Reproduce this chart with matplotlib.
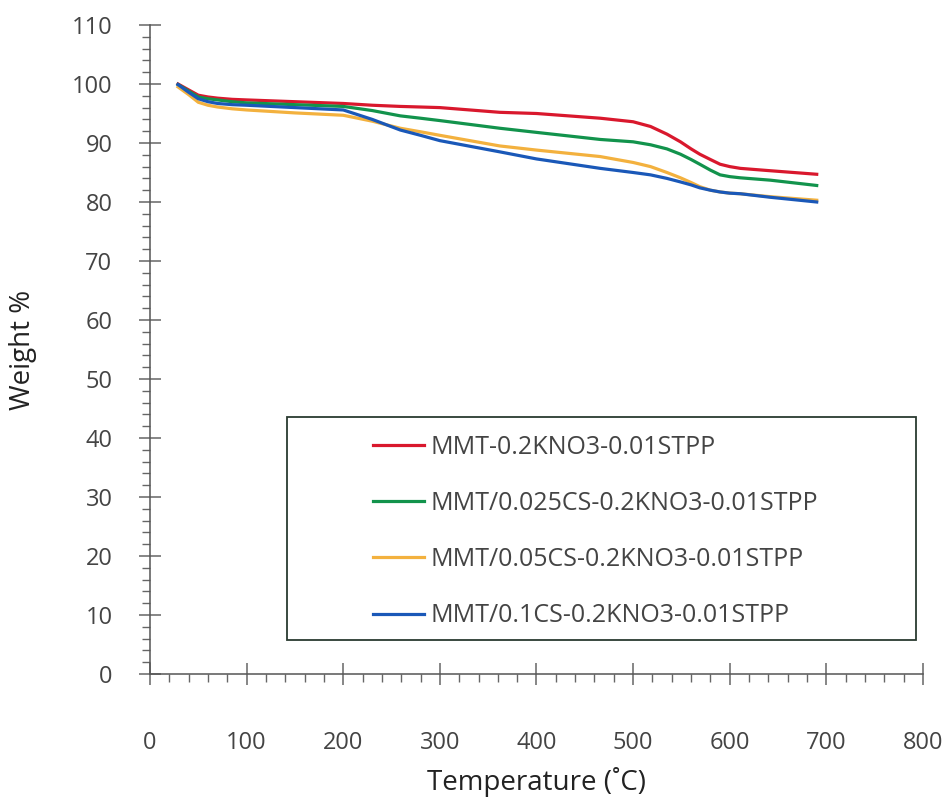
import matplotlib
matplotlib.use("Agg")
import matplotlib.pyplot as plt
from matplotlib.ticker import MultipleLocator
from matplotlib.patches import Rectangle

temperature = [29, 40, 50, 60, 70, 85, 100, 150, 200, 230, 259, 280, 300, 362, 400, 466, 500, 518, 535, 549, 560, 569, 580, 590, 600, 611, 642, 690]
mmt = [100.0, 99.0, 98.1, 97.8, 97.6, 97.4, 97.3, 97.0, 96.7, 96.4, 96.2, 96.1, 96.0, 95.2, 95.0, 94.2, 93.6, 92.8, 91.5, 90.2, 89.0, 88.1, 87.2, 86.4, 86.0, 85.7, 85.3, 84.7]
cs025 = [99.9, 98.8, 97.8, 97.5, 97.3, 97.0, 96.8, 96.5, 96.2, 95.5, 94.6, 94.2, 93.8, 92.5, 91.8, 90.6, 90.2, 89.7, 89.0, 88.1, 87.2, 86.4, 85.4, 84.6, 84.3, 84.1, 83.7, 82.8]
cs05 = [99.5, 98.2, 96.9, 96.4, 96.1, 95.8, 95.6, 95.1, 94.7, 93.7, 92.5, 91.9, 91.3, 89.5, 88.8, 87.7, 86.7, 86.0, 85.0, 84.1, 83.3, 82.6, 82.0, 81.7, 81.5, 81.4, 80.9, 80.3]
cs1 = [99.9, 98.6, 97.5, 97.0, 96.7, 96.5, 96.4, 96.0, 95.6, 94.0, 92.2, 91.3, 90.4, 88.5, 87.3, 85.7, 85.0, 84.6, 84.0, 83.4, 82.9, 82.4, 82.0, 81.7, 81.5, 81.4, 80.8, 80.0]

labels = ["MMT-0.2KNO3-0.01STPP", "MMT/0.025CS-0.2KNO3-0.01STPP",
          "MMT/0.05CS-0.2KNO3-0.01STPP", "MMT/0.1CS-0.2KNO3-0.01STPP"]
colors = ["#d9182d", "#12934c", "#f3b13e", "#1a58b8"]
series = [mmt, cs025, cs05, cs1]

plt.rcParams['font.family'] = ['Open Sans', 'DejaVu Sans']

fig = plt.figure(figsize=(9.45, 7.99), dpi=100)
ax = fig.add_axes([150/945, 1-674/799, 773/945, 649/799])

for ys, c, lab in zip(series, colors, labels):
    ax.plot(temperature, ys, color=c, lw=2.3, label=lab)

ax.set_xlim(0, 800)
ax.set_ylim(0, 110)
ax.xaxis.set_major_locator(MultipleLocator(100))
ax.xaxis.set_minor_locator(MultipleLocator(20))
ax.yaxis.set_major_locator(MultipleLocator(10))
ax.yaxis.set_minor_locator(MultipleLocator(2))

for s in ['top', 'right']:
    ax.spines[s].set_visible(False)
for s in ['left', 'bottom']:
    ax.spines[s].set_color('#555555')
    ax.spines[s].set_linewidth(1.1)

tc = '#666666'
ax.tick_params(axis='both', which='major', direction='inout', length=16, width=1.1,
               color=tc, labelsize=17, labelcolor='#444444')
ax.tick_params(axis='both', which='minor', direction='out', length=6, width=1.0, color=tc)
ax.tick_params(axis='x', which='major', pad=33)
ax.tick_params(axis='y', which='major', pad=19)

ax.set_xlabel("Temperature (˚C)", fontsize=20, color='#222222', labelpad=9)
ax.set_ylabel("Weight %", fontsize=20, color='#222222', labelpad=25)

rect = Rectangle((0.177, 0.0524), 0.991-0.177, 0.396-0.0524, transform=ax.transAxes,
                 fill=False, edgecolor='#2a3a30', lw=1.3)
ax.add_patch(rect)

ax.legend(loc='upper left', bbox_to_anchor=(0.2885, 0.369), frameon=False,
          fontsize=18, handlelength=2.05, handletextpad=0.25, labelspacing=1.25,
          borderpad=0, borderaxespad=0, labelcolor='#444444')

fig.savefig("out.png", dpi=100)
